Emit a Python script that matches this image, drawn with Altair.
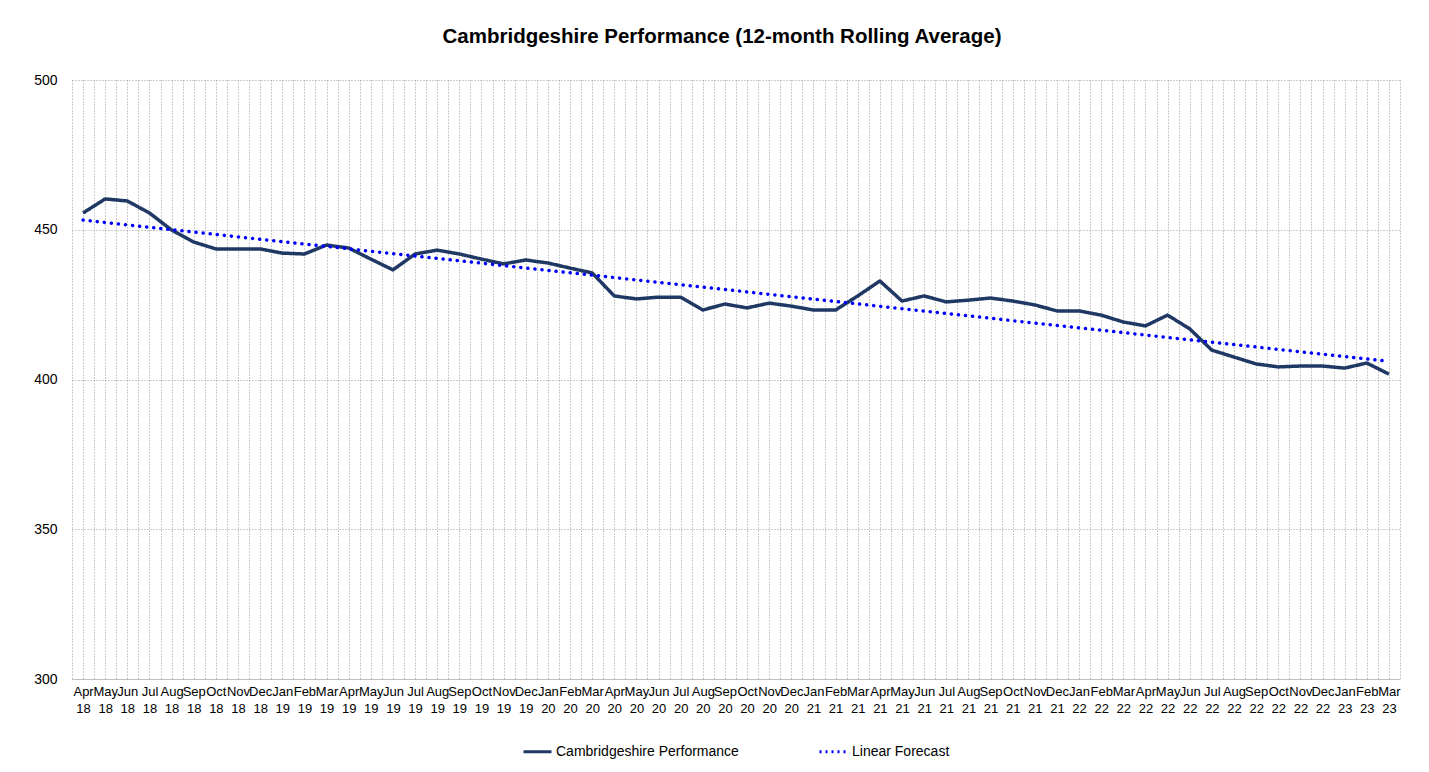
import json
import altair as alt
import pandas as pd

months = ["Apr", "May", "Jun", "Jul", "Aug", "Sep", "Oct", "Nov", "Dec", "Jan", "Feb", "Mar"] * 5
years = (["18"] * 9 + ["19"] * 12 + ["20"] * 12 + ["21"] * 12 + ["22"] * 12 + ["23"] * 3)

performance = [
    455.6, 460.3, 459.6, 455.6, 449.9, 445.9, 443.6, 443.6, 443.6, 442.2, 441.9, 444.9,
    443.9, 440.2, 436.6, 441.9, 443.2, 441.9, 440.2, 438.6, 439.9, 438.9, 437.2, 435.6,
    427.9, 426.9, 427.5, 427.5, 423.2, 425.2, 423.9, 425.5, 424.5, 423.2, 423.2, 427.9,
    432.9, 426.2, 427.9, 425.9, 426.5, 427.2, 426.2, 424.9, 422.9, 422.9, 421.5, 419.2,
    417.9, 421.5, 416.9, 409.8, 407.5, 405.2, 404.2, 404.5, 404.5, 403.8, 405.5, 401.8,
]

series_names = ["Cambridgeshire Performance", "Linear Forecast"]
series_colors = ["#203864", "#0000ff"]
y_ticks = [300, 350, 400, 450, 500]

df = pd.DataFrame({"idx": list(range(len(performance))), "value": performance})

label_expr = (
    "datum.value % 1 === 0 ? ["
    + json.dumps(months) + "[datum.value], "
    + json.dumps(years) + "[datum.value]] : ''"
)
grid_vals = [i * 0.5 - 0.5 for i in range(2 * len(performance) + 1)]

x_enc = alt.X(
    "idx:Q",
    scale=alt.Scale(domain=[-0.5, len(performance) - 0.5], nice=False, zero=False),
    axis=alt.Axis(
        title=None,
        values=grid_vals,
        labelExpr=label_expr,
        labelOverlap=False,
        labelBound=False,
        labelFlush=False,
        labelFont="Liberation Sans Narrow, Arial Narrow, Liberation Sans, Arial",
        labelFontSize=13,
        labelLineHeight=17,
        labelColor="#000000",
        labelPadding=6,
        ticks=False,
        grid=True,
        gridColor="#9a9a9a",
        gridDash=[1, 2],
        gridWidth=1,
        domain=True,
        domainColor="#bfbfbf",
        domainWidth=1,
    ),
)
y_enc = alt.Y(
    "value:Q",
    scale=alt.Scale(domain=[300, 500], nice=False, zero=False),
    axis=alt.Axis(
        title=None,
        values=y_ticks,
        labelFont="Liberation Sans, Arial",
        labelFontSize=14,
        labelColor="#000000",
        labelPadding=15,
        ticks=False,
        domain=False,
        grid=True,
        gridColor="#9a9a9a",
        gridDash=[1, 2],
        gridWidth=1,
    ),
)

color_enc = alt.Color(
    "series:N",
    scale=alt.Scale(domain=series_names, range=series_colors),
    legend=alt.Legend(
        title=None,
        orient="none",
        legendX=450,
        legendY=656,
        direction="horizontal",
        symbolType="stroke",
        symbolSize=784,
        symbolStrokeWidth=3,
        labelFont="Liberation Sans, Arial",
        labelFontSize=14,
        labelColor="#000000",
        labelOffset=3,
        labelLimit=0,
        columnPadding=74,
    ),
)
dash_enc = alt.StrokeDash(
    "series:N",
    scale=alt.Scale(domain=series_names, range=[[1, 0], [2, 4]]),
    legend=None,
)

base = alt.Chart(df)

perf_line = base.transform_calculate(
    series="'Cambridgeshire Performance'"
).mark_line(strokeWidth=3.5, strokeJoin="round").encode(
    x=x_enc, y=y_enc, color=color_enc, strokeDash=dash_enc
)

trend_line = base.transform_regression(
    "idx", "value"
).transform_calculate(
    series="'Linear Forecast'"
).mark_line(strokeWidth=3.5, strokeCap="round", strokeDash=[0.1, 7]).encode(
    x=x_enc, y=y_enc, color=color_enc
)

chart = alt.layer(perf_line, trend_line).properties(
    width=1328,
    height=599,
    padding={"left": 64, "top": 72, "right": 20, "bottom": 85},
    autosize=alt.AutoSizeParams(type="none"),
    background="#ffffff",
    title=alt.TitleParams(
        "Cambridgeshire Performance (12-month Rolling Average)",
        font="Liberation Sans, Arial",
        fontSize=20.5,
        fontWeight="bold",
        color="#000000",
        anchor="middle",
        dx=-14,
        offset=26,
    ),
).configure_view(stroke=None)

chart.save("out.html", embed_options={"renderer": "svg", "actions": False})
